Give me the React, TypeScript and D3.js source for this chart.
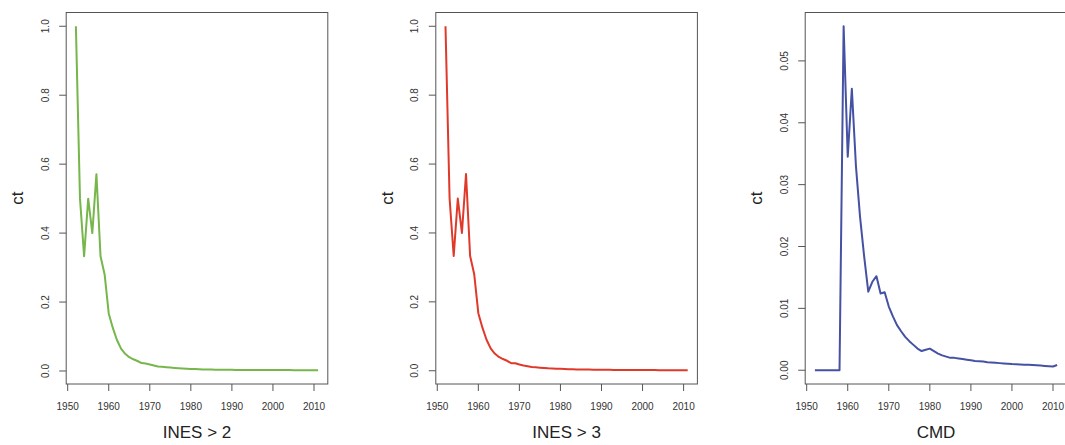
import React from "react";
import * as d3 from "d3";

const years = [
  1952, 1953, 1954, 1955, 1956, 1957, 1958, 1959, 1960, 1961,
  1962, 1963, 1964, 1965, 1966, 1967, 1968, 1969, 1970, 1971,
  1972, 1973, 1974, 1975, 1976, 1977, 1978, 1979, 1980, 1981,
  1982, 1983, 1984, 1985, 1986, 1987, 1988, 1989, 1990, 1991,
  1992, 1993, 1994, 1995, 1996, 1997, 1998, 1999, 2000, 2001,
  2002, 2003, 2004, 2005, 2006, 2007, 2008, 2009, 2010, 2011,
];

const ines2 = [
  1.0, 0.5, 0.333, 0.5, 0.4, 0.571, 0.333, 0.28, 0.167, 0.125,
  0.09, 0.065, 0.05, 0.04, 0.034, 0.029, 0.023, 0.022, 0.019, 0.016,
  0.013, 0.012, 0.011, 0.01, 0.009, 0.008, 0.0072, 0.0065, 0.006, 0.0055,
  0.005, 0.0047, 0.0044, 0.0041, 0.0039, 0.0037, 0.0035, 0.0034, 0.0033, 0.0032,
  0.0032, 0.0031, 0.0031, 0.003, 0.003, 0.0029, 0.0029, 0.0028, 0.0028, 0.0027,
  0.0027, 0.0026, 0.0026, 0.0025, 0.0025, 0.0024, 0.0024, 0.0023, 0.0023, 0.0022,
];

const ines3 = [
  1.0, 0.5, 0.333, 0.5, 0.4, 0.571, 0.333, 0.28, 0.167, 0.125,
  0.09, 0.065, 0.05, 0.04, 0.034, 0.029, 0.022, 0.022, 0.018, 0.015,
  0.013, 0.011, 0.01, 0.009, 0.008, 0.007, 0.0065, 0.006, 0.0055, 0.005,
  0.0045, 0.0042, 0.004, 0.0037, 0.0035, 0.0033, 0.0031, 0.003, 0.0028, 0.0027,
  0.0026, 0.0025, 0.0025, 0.0024, 0.0023, 0.0022, 0.0022, 0.0021, 0.002, 0.002,
  0.0019, 0.0019, 0.0018, 0.0018, 0.0017, 0.0017, 0.0016, 0.0016, 0.0015, 0.0015,
];

const cmd = [
  0, 0, 0, 0, 0, 0, 0, 0.0556, 0.0345, 0.0455,
  0.033, 0.0248, 0.0184, 0.0127, 0.0143, 0.0152, 0.0124, 0.0126, 0.0103, 0.0087,
  0.0073, 0.0063, 0.0054, 0.0047, 0.0041, 0.0035, 0.0031, 0.0033, 0.0035, 0.0031,
  0.0027, 0.0024, 0.0022, 0.002, 0.002, 0.0019, 0.0018, 0.0017, 0.0016, 0.0015,
  0.00145, 0.0014, 0.0013, 0.00125, 0.0012, 0.00115, 0.0011, 0.00105, 0.001, 0.00097,
  0.00094, 0.0009, 0.00087, 0.00083, 0.0008, 0.00075, 0.0007, 0.00065, 0.0006, 0.00085,
];

const xTicks = [1950, 1960, 1970, 1980, 1990, 2000, 2010];
const yTicksA = [0, 0.2, 0.4, 0.6, 0.8, 1.0];
const yTicksB = [0, 0.01, 0.02, 0.03, 0.04, 0.05];

const panels = [
  { title: "INES > 2", values: ines2, color: "#76b64a", yTicks: yTicksA, fmt: ".1f", left: 66.2 },
  { title: "INES > 3", values: ines3, color: "#e0392a", yTicks: yTicksA, fmt: ".1f", left: 435.8 },
  { title: "CMD", values: cmd, color: "#4551a3", yTicks: yTicksB, fmt: ".2f", left: 805.2 },
];

const TOP = 12.5;
const BOTTOM = 384;
const WIDTH = 261.6;
const FONT = "'Liberation Sans', Arial, Helvetica, sans-serif";
const AXIS = "#555";

function pad(ext: [number, number]): [number, number] {
  const r = ext[1] - ext[0];
  return [ext[0] - 0.04 * r, ext[1] + 0.04 * r];
}

function Panel({ p }: { p: (typeof panels)[number] }) {
  const x = d3.scaleLinear().domain(pad(d3.extent(years) as [number, number])).range([p.left, p.left + WIDTH]);
  const y = d3.scaleLinear().domain(pad(d3.extent(p.values) as [number, number])).range([BOTTOM, TOP]);
  const line = d3
    .line<number>()
    .x((_, i) => x(years[i]))
    .y((v) => y(v));
  const f = d3.format(p.fmt);
  const labX = p.left - 21;
  return (
    <g>
      <rect x={p.left} y={TOP} width={WIDTH} height={BOTTOM - TOP} fill="none" stroke={AXIS} strokeWidth={1} />
      <path d={line(p.values) || ""} fill="none" stroke={p.color} strokeWidth={2} strokeLinejoin="round" />
      {xTicks.map((t) => (
        <g key={t}>
          <line x1={x(t)} x2={x(t)} y1={BOTTOM} y2={BOTTOM + 7} stroke={AXIS} />
          <text x={x(t)} y={409.5} textAnchor="middle" fontSize={10} fill="#333" fontFamily={FONT}>
            {t}
          </text>
        </g>
      ))}
      {p.yTicks.map((t) => (
        <g key={t}>
          <line x1={p.left - 7} x2={p.left} y1={y(t)} y2={y(t)} stroke={AXIS} />
          <text
            transform={`translate(${labX},${y(t)}) rotate(-90)`}
            textAnchor="middle"
            dy="0.35em"
            fontSize={10}
            fill="#333"
            fontFamily={FONT}
          >
            {f(t)}
          </text>
        </g>
      ))}
      <text
        transform={`translate(${p.left - 49},${(TOP + BOTTOM) / 2}) rotate(-90)`}
        textAnchor="middle"
        dy="0.35em"
        fontSize={17}
        fill="#222"
        fontFamily={FONT}
      >
        ct
      </text>
      <text x={p.left + WIDTH / 2} y={438} textAnchor="middle" fontSize={17} fill="#222" fontFamily={FONT}>
        {p.title}
      </text>
    </g>
  );
}

export default function App() {
  return (
    <svg
      width={1065}
      height={445}
      style={{ position: "absolute", left: 0, top: 0, background: "#fff" }}
    >
      <rect width={1065} height={445} fill="#fff" />
      {panels.map((p) => (
        <Panel key={p.title} p={p} />
      ))}
    </svg>
  );
}
